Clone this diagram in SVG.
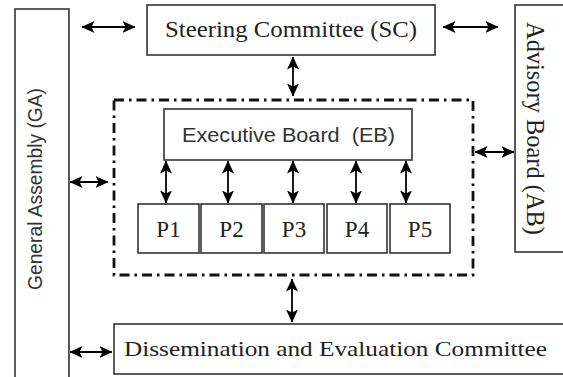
<svg xmlns="http://www.w3.org/2000/svg" width="563" height="377" viewBox="0 0 563 377">
<style>
.box{fill:#fff;stroke:#333;stroke-width:1.6}
.serif{fill:#222}
.sans{fill:#333;white-space:pre}
.arr{stroke:#000;stroke-width:1.8;fill:none;marker-start:url(#ah);marker-end:url(#ah)}
.dash{fill:none;stroke:#111;stroke-width:2.8;stroke-dasharray:10 5 2.5 5}
</style>
<defs>
<marker id="ah" markerUnits="userSpaceOnUse" markerWidth="13" markerHeight="12" refX="12.5" refY="6" orient="auto-start-reverse" viewBox="0 0 13 12">
<path d="M0,0 L13,6 L0,12 L3,6 z" fill="#000"/>
</marker>
</defs>
<rect width="563" height="377" fill="#fff"/>
<g id="GA">
<rect class="box" x="15" y="9" width="54" height="380"/>
<text class="sans" font-family="'Liberation Sans', Arial, sans-serif" transform="translate(42,189) rotate(-90)" text-anchor="middle" font-size="20" textLength="202" lengthAdjust="spacingAndGlyphs">General Assembly (GA)</text>
</g>
<g id="SC">
<rect class="box" x="147" y="5" width="288" height="50"/>
<text class="serif" font-family="'Liberation Serif', 'Times New Roman', 'DejaVu Serif', serif" x="291" y="37" text-anchor="middle" font-size="24" textLength="252" lengthAdjust="spacingAndGlyphs">Steering Committee (SC)</text>
</g>
<g id="AB">
<rect class="box" x="515" y="5" width="60" height="247"/>
<text class="serif" font-family="'Liberation Serif', 'Times New Roman', 'DejaVu Serif', serif" transform="translate(527,128.5) rotate(90)" text-anchor="middle" font-size="25" textLength="213" lengthAdjust="spacingAndGlyphs">Advisory Board (AB)</text>
</g>
<g id="group">
<rect class="dash" x="114" y="100" width="359" height="175"/>
</g>
<g id="EB">
<rect class="box" x="164" y="109" width="248" height="51"/>
<text class="sans" font-family="'Liberation Sans', Arial, sans-serif" x="288.5" y="142" text-anchor="middle" font-size="21" textLength="213" lengthAdjust="spacingAndGlyphs">Executive Board  (EB)</text>
</g>
<g id="P1">
<rect class="box" x="138" y="204" width="61" height="49"/>
<text class="serif" font-family="'Liberation Serif', 'Times New Roman', 'DejaVu Serif', serif" x="168.5" y="237" text-anchor="middle" font-size="23">P1</text>
</g>
<g id="P2">
<rect class="box" x="201" y="204" width="61" height="49"/>
<text class="serif" font-family="'Liberation Serif', 'Times New Roman', 'DejaVu Serif', serif" x="231.5" y="237" text-anchor="middle" font-size="23">P2</text>
</g>
<g id="P3">
<rect class="box" x="264" y="204" width="60" height="49"/>
<text class="serif" font-family="'Liberation Serif', 'Times New Roman', 'DejaVu Serif', serif" x="294" y="237" text-anchor="middle" font-size="23">P3</text>
</g>
<g id="P4">
<rect class="box" x="327" y="204" width="60" height="49"/>
<text class="serif" font-family="'Liberation Serif', 'Times New Roman', 'DejaVu Serif', serif" x="357" y="237" text-anchor="middle" font-size="23">P4</text>
</g>
<g id="P5">
<rect class="box" x="390" y="204" width="60" height="49"/>
<text class="serif" font-family="'Liberation Serif', 'Times New Roman', 'DejaVu Serif', serif" x="420" y="237" text-anchor="middle" font-size="23">P5</text>
</g>
<g id="DEC">
<rect class="box" x="114" y="324" width="460" height="50"/>
<text class="serif" font-family="'Liberation Serif', 'Times New Roman', 'DejaVu Serif', serif" x="335.5" y="356" text-anchor="middle" font-size="22" textLength="423" lengthAdjust="spacingAndGlyphs">Dissemination and Evaluation Committee</text>
</g>
<g id="connectors">
<line class="arr" x1="82" y1="27" x2="135" y2="27"/>
<line class="arr" x1="443" y1="27" x2="498" y2="27"/>
<line class="arr" x1="293" y1="57" x2="293" y2="96"/>
<line class="arr" x1="70" y1="182" x2="108" y2="182"/>
<line class="arr" x1="475" y1="152" x2="514" y2="152"/>
<line class="arr" x1="166" y1="161" x2="166" y2="203"/>
<line class="arr" x1="228" y1="161" x2="228" y2="203"/>
<line class="arr" x1="293" y1="161" x2="293" y2="203"/>
<line class="arr" x1="356" y1="161" x2="356" y2="203"/>
<line class="arr" x1="406" y1="161" x2="406" y2="203"/>
<line class="arr" x1="292" y1="279" x2="292" y2="322"/>
<line class="arr" x1="70" y1="352" x2="112" y2="352"/>
</g>
</svg>
